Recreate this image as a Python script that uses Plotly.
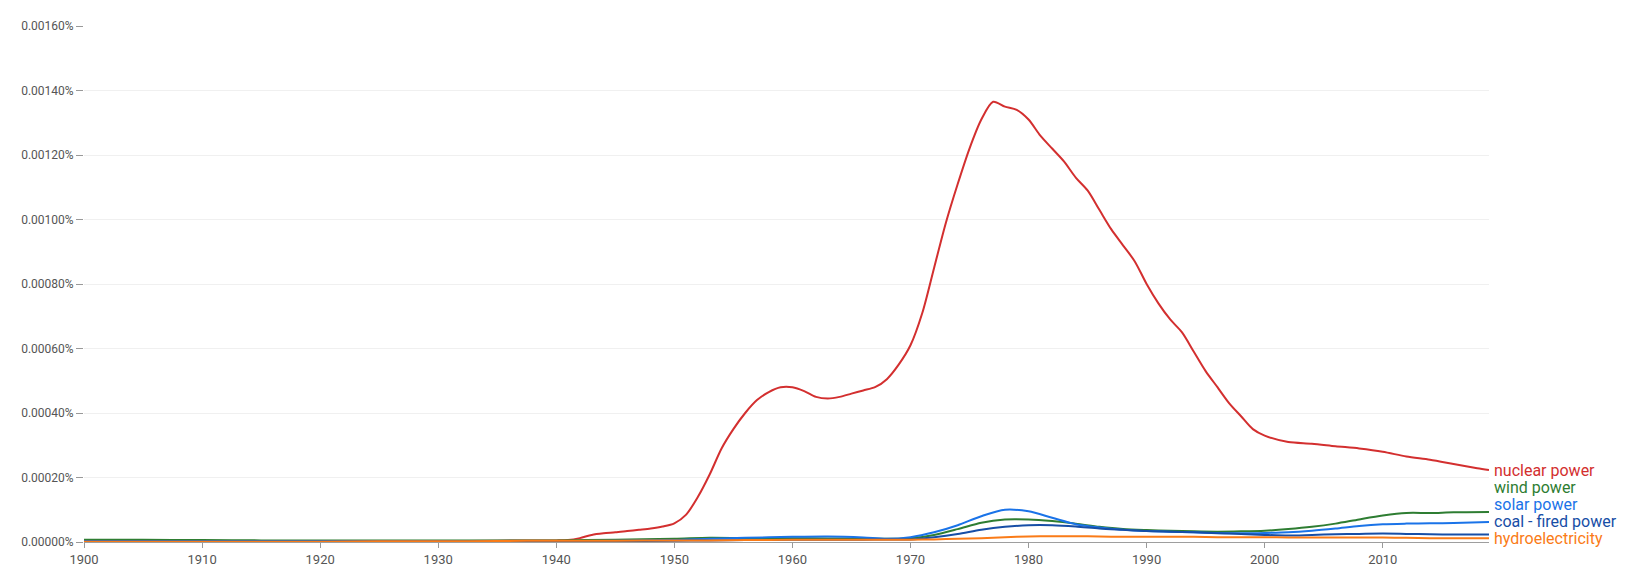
import plotly.graph_objects as go

years_nuclear = [1900, 1905, 1910, 1915, 1920, 1925, 1930, 1935, 1938, 1940, 1941, 1942, 1943, 1944,
                 1945, 1946, 1947, 1948, 1949, 1950, 1951, 1952, 1953, 1954, 1955, 1956, 1957, 1958,
                 1959, 1960, 1961, 1962, 1963, 1964, 1965, 1966, 1967, 1968, 1969, 1970, 1971, 1972,
                 1973, 1974, 1975, 1976, 1977, 1978, 1979, 1980, 1981, 1982, 1983, 1984, 1985, 1986,
                 1987, 1988, 1989, 1990, 1991, 1992, 1993, 1994, 1995, 1996, 1997, 1998, 1999, 2000,
                 2002, 2004, 2006, 2008, 2010, 2012, 2014, 2016, 2018, 2019]
nuclear_power = [0.000002, 0.000002, 0.000002, 0.000002, 0.000002, 0.000002, 0.000003, 0.000004, 0.000005,
                 0.000005, 0.000006, 0.000012, 0.000022, 0.000027, 0.00003, 0.000034, 0.000038,
                 0.000042, 0.000048, 0.000058, 0.000085, 0.00014, 0.00021, 0.00029, 0.00035, 0.00040,
                 0.00044, 0.000465, 0.00048, 0.00048, 0.000468, 0.00045, 0.000445, 0.00045, 0.00046,
                 0.00047, 0.00048, 0.000505, 0.00055, 0.00061, 0.00071, 0.00085, 0.00099, 0.00111,
                 0.00122, 0.00131, 0.001365, 0.00135, 0.00134, 0.00131, 0.00126, 0.00122, 0.00118,
                 0.00113, 0.00109, 0.00103, 0.00097, 0.00092, 0.00087, 0.00080, 0.00074, 0.00069,
                 0.00065, 0.00059, 0.00053, 0.00048, 0.00043, 0.00039, 0.00035, 0.00033, 0.00031,
                 0.000305, 0.000297, 0.00029, 0.00028, 0.000265, 0.000255, 0.000242, 0.000229, 0.000223]

years_small = [1900, 1905, 1910, 1915, 1920, 1925, 1930, 1935, 1940, 1945, 1950, 1953, 1956, 1960,
               1963, 1966, 1968, 1970, 1972, 1974, 1976, 1978, 1980, 1982, 1984, 1986, 1988, 1990,
               1992, 1994, 1996, 1998, 2000, 2002, 2004, 2006, 2008, 2010, 2012, 2014, 2016, 2019]
wind_power = [0.000007, 0.000007, 0.000006, 0.000005, 0.000005, 0.000005, 0.000005, 0.000005, 0.000005,
              0.000007, 0.00001, 0.000013, 0.000012, 0.000012, 0.000011, 0.00001, 0.00001, 0.000012,
              0.000022, 0.00004, 0.00006, 0.00007, 0.00007, 0.000065, 0.000057, 0.000047, 0.00004,
              0.000037, 0.000035, 0.000033, 0.000032, 0.000033, 0.000035, 0.00004, 0.000047, 0.000057,
              0.00007, 0.000082, 0.00009, 0.00009, 0.000092, 0.000093]
solar_power = [0.000002, 0.000002, 0.000002, 0.000002, 0.000002, 0.000002, 0.000002, 0.000002, 0.000003,
               0.000004, 0.000006, 0.00001, 0.000013, 0.000016, 0.000017, 0.000014, 0.00001, 0.000015,
               0.00003, 0.000052, 0.00008, 0.0001, 0.000095, 0.000075, 0.000055, 0.000045, 0.000038,
               0.000034, 0.000032, 0.00003, 0.000028, 0.000027, 0.000028, 0.00003, 0.000035, 0.000042,
               0.00005, 0.000055, 0.000057, 0.000058, 0.000059, 0.000062]
coal_fired_power = [0.000001, 0.000001, 0.000001, 0.000001, 0.000001, 0.000001, 0.000001, 0.000001,
                    0.000002, 0.000003, 0.000004, 0.000005, 0.000006, 0.000007, 0.000007, 0.000007,
                    0.000008, 0.000008, 0.000015, 0.000025, 0.000038, 0.000047, 0.000052, 0.000052,
                    0.000048, 0.000042, 0.000038, 0.000034, 0.000032, 0.00003, 0.000027, 0.000025,
                    0.000022, 0.00002, 0.000022, 0.000024, 0.000025, 0.000026, 0.000025, 0.000024,
                    0.000023, 0.000023]
hydroelectricity = [0.000001, 0.000001, 0.000001, 0.000001, 0.000001, 0.000002, 0.000002, 0.000003,
                    0.000004, 0.000004, 0.000005, 0.000005, 0.000006, 0.000007, 0.000007, 0.000007,
                    0.000007, 0.000007, 0.000008, 0.00001, 0.000012, 0.000015, 0.000017, 0.000018,
                    0.000018, 0.000017, 0.000016, 0.000016, 0.000016, 0.000016, 0.000015, 0.000015,
                    0.000015, 0.000014, 0.000014, 0.000014, 0.000014, 0.000014, 0.000013, 0.000012,
                    0.000012, 0.000012]

y_tickvals = [0, 0.0002, 0.0004, 0.0006, 0.0008, 0.0010, 0.0012, 0.0014, 0.0016]
y_ticktext = ["0.00000%", "0.00020%", "0.00040%", "0.00060%", "0.00080%",
              "0.00100%", "0.00120%", "0.00140%", "0.00160%"]
x_tickvals = [1900, 1910, 1920, 1930, 1940, 1950, 1960, 1970, 1980, 1990, 2000, 2010]

series = [
    ("nuclear power", years_nuclear, nuclear_power, "#d32f2f"),
    ("wind power", years_small, wind_power, "#2e7d32"),
    ("solar power", years_small, solar_power, "#1a73e8"),
    ("coal - fired power", years_small, coal_fired_power, "#174ea6"),
    ("hydroelectricity", years_small, hydroelectricity, "#fa7b17"),
]

Y_MAX = 0.0016
PLOT_TOP, PLOT_BOTTOM = 26, 542
px_per_unit = (PLOT_BOTTOM - PLOT_TOP) / Y_MAX

fig = go.Figure()
for name, xs, ys, col in series:
    fig.add_trace(go.Scatter(x=xs, y=ys, mode="lines", name=name,
                             line=dict(color=col, width=2, shape="spline", smoothing=0.8),
                             hoverinfo="x+y+name"))

# end labels with collision avoidance (bottom-up)
LABEL_GAP = 17
ordered = sorted(series, key=lambda s: s[2][-1])
prev_px = None
for name, xs, ys, col in ordered:
    natural_px = PLOT_BOTTOM - ys[-1] * px_per_unit
    target = natural_px if prev_px is None else min(natural_px, prev_px - LABEL_GAP)
    prev_px = target
    fig.add_annotation(x=xs[-1], y=ys[-1], xref="x", yref="y", text=name, showarrow=False,
                       xanchor="left", yanchor="middle", xshift=3, yshift=natural_px - target,
                       font=dict(family="Roboto, sans-serif", size=16, color=col))

fig.update_layout(
    width=1635, height=578,
    margin=dict(l=84, r=146, t=26, b=36),
    paper_bgcolor="white", plot_bgcolor="white",
    showlegend=False,
    font=dict(family="Roboto, sans-serif", color="#555555"),
    xaxis=dict(range=[1900, 2019], tickvals=x_tickvals, ticks="outside", ticklen=5,
               tickcolor="#999999", showgrid=False, zeroline=False, showline=True,
               linecolor="#9e9e9e", linewidth=1, tickfont=dict(size=13, color="#555555")),
    yaxis=dict(range=[0, Y_MAX], tickvals=y_tickvals, ticktext=y_ticktext, ticks="outside",
               ticklen=7, tickcolor="#999999", showgrid=True, gridcolor="#f0f0f0",
               zeroline=False, showline=False, tickfont=dict(size=12, color="#555555")),
)

fig.write_html("out.html")
